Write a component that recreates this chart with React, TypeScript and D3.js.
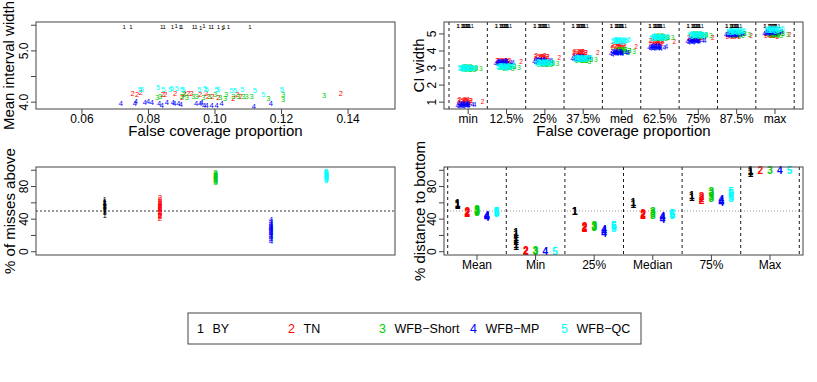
import * as d3 from "d3";

const FONT = "'Liberation Sans', Arial, Helvetica, sans-serif";

const methodNames = ["BY", "TN", "WFB\u2212Short", "WFB\u2212MP", "WFB\u2212QC"];
const methodColors = ["#000000", "#FF0000", "#00CD00", "#0000FF", "#00FFFF"];

// false coverage proportion and mean interval width, one entry per simulation run
const fcpBY = [0.0727, 0.0747, 0.084, 0.0847, 0.0872, 0.0883, 0.0895, 0.09, 0.0935, 0.0943, 0.0957, 0.0967, 0.0985, 0.0992, 0.101, 0.1023, 0.1027, 0.104, 0.1105];
const widthBY = [5.47, 5.46, 5.47, 5.46, 5.47, 5.48, 5.46, 5.47, 5.46, 5.47, 5.45, 5.48, 5.47, 5.46, 5.47, 5.45, 5.47, 5.46, 5.47];
const fcpTN = [0.0752, 0.0766, 0.0777, 0.0843, 0.0851, 0.088, 0.0901, 0.0908, 0.092, 0.093, 0.0955, 0.0973, 0.0979, 0.0992, 0.101, 0.1055, 0.1067, 0.1077, 0.1378];
const widthTN = [4.16, 4.14, 4.185, 4.146, 4.15, 4.173, 4.088, 4.173, 4.17, 4.16, 4.14, 4.16, 4.107, 4.12, 4.096, 4.076, 4.14, 4.107, 4.16];
const fcpShort = [0.0827, 0.0835, 0.09, 0.0907, 0.0915, 0.0935, 0.0945, 0.0965, 0.0983, 0.1, 0.1015, 0.103, 0.1033, 0.1055, 0.107, 0.1085, 0.1095, 0.111, 0.116, 0.1205, 0.1205, 0.1328];
const widthShort = [4.1, 4.12, 4.11, 4.14, 4.1, 4.11, 4.12, 4.1, 4.11, 4.14, 4.1, 4.065, 4.155, 4.12, 4.11, 4.11, 4.11, 4.11, 4.065, 4.14, 4.045, 4.13];
const fcpMP = [0.0717, 0.0759, 0.0762, 0.0789, 0.0799, 0.081, 0.0832, 0.084, 0.0855, 0.0873, 0.0878, 0.089, 0.0897, 0.0943, 0.0955, 0.096, 0.0967, 0.0975, 0.099, 0.1005, 0.102, 0.1117, 0.1168];
const widthMP = [3.965, 3.979, 4.004, 3.99, 4.01, 3.99, 3.979, 3.926, 3.998, 3.99, 3.979, 3.979, 3.959, 3.979, 3.965, 3.99, 3.926, 3.926, 3.932, 3.932, 3.965, 3.912, 3.965];
const fcpQC = [0.0774, 0.078, 0.0829, 0.0845, 0.0865, 0.087, 0.0885, 0.09, 0.0905, 0.0953, 0.097, 0.0975, 0.1005, 0.101, 0.105, 0.106, 0.1082, 0.112, 0.1145, 0.1201];
const widthQC = [4.256, 4.256, 4.295, 4.243, 4.256, 4.276, 4.276, 4.256, 4.243, 4.256, 4.276, 4.243, 4.256, 4.256, 4.23, 4.23, 4.243, 4.23, 4.146, 4.243];

const fcpAll = [fcpBY, fcpTN, fcpShort, fcpMP, fcpQC];
const widthAll = [widthBY, widthTN, widthShort, widthMP, widthQC];

// CI width quantiles
const quantileLabels = ["min", "12.5%", "25%", "37.5%", "med", "62.5%", "75%", "87.5%", "max"];
const ciTN = [1.06, 3.38, 3.63, 3.9, 4.28, 4.55, 4.77, 4.93, 4.96];
const ciShort = [3.0, 3.08, 3.28, 3.5, 4.02, 4.8, 4.93, 5.0, 5.0];
const ciMP = [0.85, 3.33, 3.42, 3.6, 3.91, 4.23, 4.6, 4.99, 5.1];
const ciQC = [3.0, 3.08, 3.3, 3.56, 4.6, 4.8, 4.94, 5.15, 5.25];
const ciSpreadTN = [0.04, -0.06, 0.08, -0.02, 0.05, -0.08, 0.01, 0.07, -0.04, 0.03, -0.07, 0.06, -0.01, 0.09, -0.05, 0.02, -0.09, 0.04, 0.0];
const ciSpreadShort = [0.03, -0.05, 0.07, -0.02, 0.06, -0.08, 0.01, 0.08, -0.04, 0.02, -0.06, 0.05, -0.01, 0.09, -0.07, 0.04, -0.03, 0.06, -0.09, 0.02, 0.0, -0.02];
const ciSpreadMP = [-0.05, 0.06, -0.09, 0.03, -0.02, 0.08, -0.06, 0.01, 0.05, -0.08, 0.02, 0.07, -0.03, 0.04, -0.07, 0.09, -0.01, 0.06, -0.04, 0.03, -0.06, 0.0, 0.02];
const ciSpreadQC = [0.02, -0.04, 0.06, -0.07, 0.03, 0.08, -0.02, 0.05, -0.06, 0.01, 0.07, -0.03, 0.04, -0.08, 0.0, 0.06, -0.05, 0.03, -0.01, 0.05];
const ciCenters = [null, ciTN, ciShort, ciMP, ciQC];
const ciSpreads = [null, ciSpreadTN, ciSpreadShort, ciSpreadMP, ciSpreadQC];

// % of misses above
const aboveBY = [45, 48, 51, 53, 55, 56, 57, 58, 59, 60, 61, 62, 64, 50, 54, 57, 59, 52];
const aboveTN = [41, 43, 45, 47, 49, 50, 52, 53, 55, 56, 58, 59, 61, 62, 64, 66, 48, 54, 57, 44];
const aboveShort = [85, 86, 88, 89, 90, 91, 92, 93, 94, 95, 96, 97, 87, 90, 92, 94];
const aboveMP = [13, 15, 17, 19, 20, 22, 23, 25, 26, 27, 28, 29, 30, 31, 32, 34, 35, 37, 39, 24];
const aboveQC = [88, 89, 90, 91, 92, 93, 94, 95, 96, 97, 98, 99, 90, 92, 94, 96];
const aboveAll = [aboveBY, aboveTN, aboveShort, aboveMP, aboveQC];

// % distance to bottom, per summary statistic
const summaryLabels = ["Mean", "Min", "25%", "Median", "75%", "Max"];
const distBY = [[57, 58.5, 59.5], [6, 9, 12, 15, 18, 21, 24], [49, 50], [58.5, 60], [66.5, 68.5], [96, 98.5, 100]];
const distTN = [[47, 48, 49], [0.5, 1], [28, 30, 31.5], [44, 45.5, 47], [63, 65.5, 68], [100]];
const distShort = [[48, 49.5, 51, 52], [0.5, 2], [29.5, 31, 32], [45, 47, 49], [65, 68, 71, 73.5], [100]];
const distMP = [[42, 43, 44.5], [0.5], [23, 25, 27], [40, 41.5, 43], [60, 62, 64], [100]];
const distQC = [[47, 48.5, 50], [0.5], [29, 30.5, 32], [44, 45.5, 47], [65, 68, 71, 74], [100]];
const distAll = [distBY, distTN, distShort, distMP, distQC];

const BOX = "#444";

function YAxis({ scale, x, ticks, labels, fmt }) {
  return (
    <g>
      {ticks.map((t) => (
        <line key={t} x1={x - 5} x2={x} y1={scale(t)} y2={scale(t)} stroke={BOX} />
      ))}
      {labels.map((t) => (
        <text key={t} transform={`translate(${x - 8},${scale(t)}) rotate(-90)`} textAnchor="middle" fontSize={12}>
          {fmt(t)}
        </text>
      ))}
    </g>
  );
}

function XAxis({ scale, y, ticks, labels }) {
  return (
    <g>
      {ticks.map((t, i) => (
        <g key={i}>
          <line x1={scale(t)} x2={scale(t)} y1={y} y2={y + 5} stroke={BOX} />
          <text x={scale(t)} y={y + 14} textAnchor="middle" fontSize={12}>
            {labels[i]}
          </text>
        </g>
      ))}
    </g>
  );
}

function Frame({ x0, x1, y0, y1 }) {
  return <rect x={x0} y={y0} width={x1 - x0} height={y1 - y0} fill="none" stroke={BOX} strokeWidth={1} />;
}

function Panel1() {
  const x0 = 36, x1 = 395, y0 = 22, y1 = 109;
  const x = d3.scaleLinear().domain([0.0462, 0.1541]).range([x0, x1]);
  const y = d3.scaleLinear().domain([3.867, 5.563]).range([y1, y0]);
  const fmt = d3.format(".2f");
  const xt = [0.06, 0.08, 0.1, 0.12, 0.14];
  return (
    <g>
      {fcpAll.map((arr, m) =>
        arr.map((v, j) => (
          <text key={`${m}-${j}`} x={x(v)} y={y(widthAll[m][j])} fill={methodColors[m]} fontSize={m === 0 ? 6 : 7.5}
            textAnchor="middle" dominantBaseline="central">
            {m + 1}
          </text>
        ))
      )}
      <Frame x0={x0} x1={x1} y0={y0} y1={y1} />
      <XAxis scale={x} y={y1} ticks={xt} labels={xt.map(fmt)} />
      <YAxis scale={y} x={x0} ticks={[4, 4.5, 5, 5.5]} labels={[4, 5]} fmt={d3.format(".1f")} />
      <text x={(x0 + x1) / 2} y={136} textAnchor="middle" fontSize={15}>False coverage proportion</text>
      <text transform={`translate(14,${(y0 + y1) / 2}) rotate(-90)`} textAnchor="middle" fontSize={15}>Mean interval width</text>
    </g>
  );
}

function Panel2() {
  const x0 = 444, x1 = 803, y0 = 22, y1 = 109;
  const x = d3.scaleLinear().domain([-0.13, 9.23]).range([x0, x1]);
  const y = d3.scaleLinear().domain([0.6, 5.7]).range([y1, y0]);
  const groups = d3.range(quantileLabels.length);
  return (
    <g>
      {d3.range(quantileLabels.length + 1).map((k) => (
        <line key={k} x1={x(k)} x2={x(k)} y1={y0} y2={y1} stroke="#000" strokeWidth={0.9} strokeDasharray="3,3" />
      ))}
      {fcpAll.map((arr, m) =>
        groups.map((g) =>
          arr.map((v, j) => {
            const val = m === 0 ? widthBY[j] : ciCenters[m][g] + ciSpreads[m][j];
            return (
              <text key={`${m}-${g}-${j}`} x={x(g + v * 10 - 0.5)} y={y(val)} fill={methodColors[m]}
                fontSize={m === 0 ? 5.5 : 6.5} textAnchor="middle" dominantBaseline="central">
                {m + 1}
              </text>
            );
          })
        )
      )}
      <Frame x0={x0} x1={x1} y0={y0} y1={y1} />
      <XAxis scale={x} y={y1} ticks={groups.map((g) => g + 0.5)} labels={quantileLabels} />
      <YAxis scale={y} x={x0} ticks={[1, 2, 3, 4, 5]} labels={[1, 2, 3, 4, 5]} fmt={String} />
      <text x={(x0 + x1) / 2} y={136} textAnchor="middle" fontSize={15}>False coverage proportion</text>
      <text transform={`translate(424,${(y0 + y1) / 2}) rotate(-90)`} textAnchor="middle" fontSize={15}>CI width</text>
    </g>
  );
}

function Panel3() {
  const x0 = 36, x1 = 395, y0 = 167, y1 = 255;
  const x = d3.scaleLinear().domain([-0.24, 6.24]).range([x0, x1]);
  const y = d3.scaleLinear().domain([-4, 104]).range([y1, y0]);
  return (
    <g>
      <line x1={x0} x2={x1} y1={y(50)} y2={y(50)} stroke="#333" strokeDasharray="2,2" />
      {aboveAll.map((arr, m) =>
        arr.map((v, j) => (
          <text key={`${m}-${j}`} x={x(m + 1)} y={y(v)} fill={methodColors[m]} fontSize={8}
            textAnchor="middle" dominantBaseline="central">
            {m + 1}
          </text>
        ))
      )}
      <Frame x0={x0} x1={x1} y0={y0} y1={y1} />
      <YAxis scale={y} x={x0} ticks={[0, 20, 40, 60, 80, 100]} labels={[0, 40, 80]} fmt={String} />
      <text transform={`translate(15,${(y0 + y1) / 2}) rotate(-90)`} textAnchor="middle" fontSize={15}>% of misses above</text>
    </g>
  );
}

function Panel4() {
  const x0 = 444, x1 = 803, y0 = 167, y1 = 255;
  const x = d3.scaleLinear().domain([-0.063, 6.063]).range([x0, x1]);
  const y = d3.scaleLinear().domain([-4, 104]).range([y1, y0]);
  const groups = d3.range(summaryLabels.length);
  return (
    <g>
      <defs>
        <clipPath id="bottomRow">
          <rect x={400} y={140} width={417} height={242} />
        </clipPath>
      </defs>
      <line x1={x0} x2={x1} y1={y(50)} y2={y(50)} stroke="#999" strokeDasharray="1,2" />
      {d3.range(summaryLabels.length + 1).map((k) => (
        <line key={k} x1={x(k)} x2={x(k)} y1={y0} y2={y1} stroke="#000" strokeWidth={0.9} strokeDasharray="3,3" />
      ))}
      {distAll.map((byGroup, m) =>
        byGroup.map((vals, g) =>
          vals.map((v, j) => (
            <text key={`${m}-${g}-${j}`} x={x(g + (m + 1) / 6)} y={y(v)} fill={methodColors[m]} fontSize={10}
              fontWeight="bold" textAnchor="middle" dominantBaseline="central">
              {m + 1}
            </text>
          ))
        )
      )}
      <Frame x0={x0} x1={x1} y0={y0} y1={y1} />
      <XAxis scale={x} y={y1} ticks={groups.map((g) => g + 0.5)} labels={summaryLabels} />
      <YAxis scale={y} x={x0} ticks={[0, 20, 40, 60, 80, 100]} labels={[0, 40, 80]} fmt={String} />
      <g clipPath="url(#bottomRow)">
        <text transform={`translate(425,${(y0 + y1) / 2}) rotate(-90)`} textAnchor="middle" fontSize={15}>% distance to bottom</text>
      </g>
    </g>
  );
}

function Legend() {
  const lx0 = 188, lx1 = 641, ly0 = 313, ly1 = 344;
  const item = d3.scaleLinear().domain([0, 4]).range([200.5, 564.5]);
  return (
    <g>
      <rect x={lx0} y={ly0} width={lx1 - lx0} height={ly1 - ly0} fill="none" stroke={BOX} />
      {methodNames.map((name, i) => (
        <g key={name}>
          <text x={item(i)} y={333} textAnchor="middle" fontSize={12.5} fill={methodColors[i]}>{i + 1}</text>
          <text x={item(i) + 12} y={333} fontSize={12.5}>{name}</text>
        </g>
      ))}
    </g>
  );
}

export default function App() {
  return (
    <svg width={817} height={382} fontFamily={FONT} style={{ position: "absolute", left: 0, top: 0, display: "block" }}>
      <rect width={817} height={382} fill="#fff" />
      <Panel1 />
      <Panel2 />
      <Panel3 />
      <Panel4 />
      <Legend />
    </svg>
  );
}
